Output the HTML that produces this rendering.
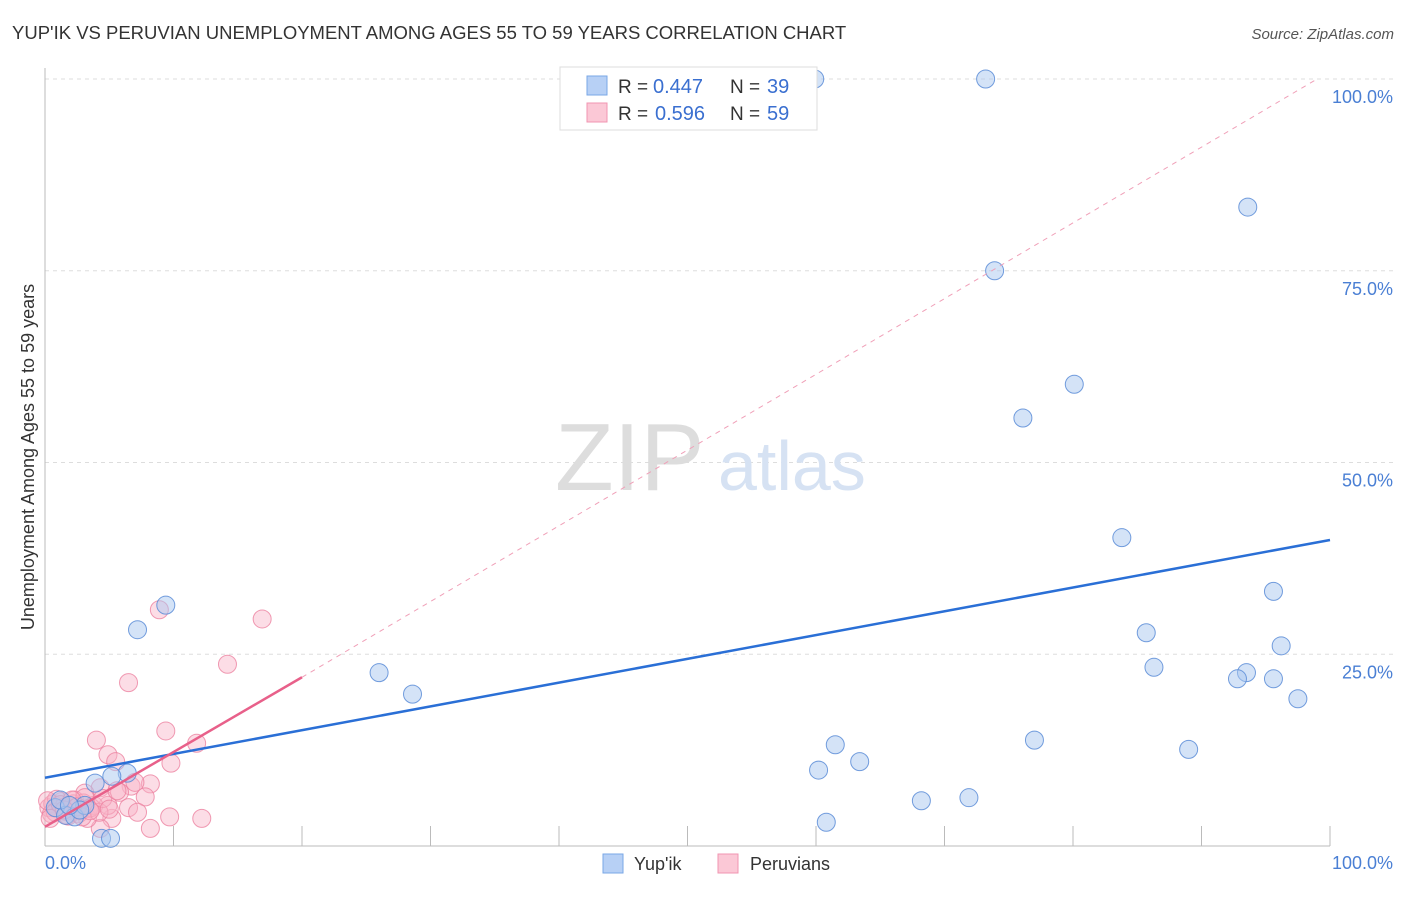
<!DOCTYPE html>
<html><head><meta charset="utf-8"><style>
body{margin:0;background:#fff;font-family:"Liberation Sans",sans-serif;}
svg text{font-family:"Liberation Sans",sans-serif;}
</style></head><body>
<svg id="chart" width="1406" height="892">
<text x="12" y="39" font-size="18.5" fill="#333">YUP'IK VS PERUVIAN UNEMPLOYMENT AMONG AGES 55 TO 59 YEARS CORRELATION CHART</text>
<text x="1394" y="39" font-size="15" fill="#555" font-style="italic" text-anchor="end">Source: ZipAtlas.com</text>
<g id="grid"></g>
<text x="555" y="490" font-size="96" fill="#ddd" font-family="Liberation Serif">ZIP</text>
<text x="718" y="490" font-size="70" fill="#d6e2f3">atlas</text>
<line x1="45" y1="68" x2="45" y2="846" stroke="#bbb"/>
<line x1="45" y1="846" x2="1330" y2="846" stroke="#bbb"/>
<g id="ticks"></g>
<g id="ylabels"></g>
<text x="45" y="869" font-size="18" fill="#4a7fd4">0.0%</text>
<text x="1393" y="869" font-size="18" fill="#4a7fd4" text-anchor="end">100.0%</text>
<text transform="translate(34,457) rotate(-90)" font-size="18" fill="#333" text-anchor="middle">Unemployment Among Ages 55 to 59 years</text>
<g id="pink"></g>
<g id="blue"></g>
<g id="lines"></g>
<g>
<rect x="560" y="67" width="257" height="63" fill="#fff" stroke="#ddd"/>
<rect x="587" y="76" width="20" height="19" fill="#b7d0f5" stroke="#7aa7e6"/>
<rect x="587" y="103" width="20" height="19" fill="#fbc8d6" stroke="#f095b1"/>
<text x="618" y="93" font-size="19" fill="#333">R =</text>
<text x="653" y="93" font-size="20" fill="#3a6fd0">0.447</text>
<text x="730" y="93" font-size="19" fill="#333">N =</text>
<text x="767" y="93" font-size="20" fill="#3a6fd0">39</text>
<text x="618" y="120" font-size="19" fill="#333">R =</text>
<text x="655" y="120" font-size="20" fill="#3a6fd0">0.596</text>
<text x="730" y="120" font-size="19" fill="#333">N =</text>
<text x="767" y="120" font-size="20" fill="#3a6fd0">59</text>
</g>
<g>
<rect x="603" y="854" width="20" height="19" fill="#b7d0f5" stroke="#7aa7e6"/>
<text x="634" y="870" font-size="18" fill="#333">Yup'ik</text>
<rect x="718" y="854" width="20" height="19" fill="#fbc8d6" stroke="#f095b1"/>
<text x="750" y="870" font-size="18" fill="#333">Peruvians</text>
</g>
</svg>
<script>
const yTicks=[25,50,75,100];
const yTickLabels=["25.0%","50.0%","75.0%","100.0%"];
const xTicks=[10,20,30,40,50,60,70,80,90,100];
const yupikX=[59.9,73.2,93.6,73.9,80.1,76.1,83.8,95.6,85.7,9.4,7.2,26.0,28.6,86.3,93.5,92.8,95.6,96.2,97.5,61.5,63.4,60.2,77.0,89.0,68.2,71.9,60.8,3.9,6.4,5.2,4.4,5.1,0.8,1.6,2.3,3.1,1.2,2.7,1.9];
const yupikY=[100,100,83.3,75,60.2,55.8,40.2,33.2,27.8,31.4,28.2,22.6,19.8,23.3,22.6,21.8,21.8,26.1,19.2,13.2,11.0,9.9,13.8,12.6,5.9,6.3,3.1,8.2,9.5,9.1,1.0,1.0,5.0,4.0,3.8,5.3,6.0,4.7,5.3];
const peruX=[8.9,16.9,14.2,6.5,9.4,4.0,11.8,4.9,5.5,9.8,6.7,8.2,7.0,5.8,7.8,4.3,3.1,9.7,12.2,8.2,5.2,4.3,6.5,7.2,4.9,3.3,0.3,0.6,1.0,1.3,1.6,2.0,2.3,2.6,3.0,3.4,3.8,0.5,0.9,1.4,1.8,2.2,2.7,3.1,3.6,4.2,0.2,0.8,1.2,1.7,2.1,2.5,2.9,3.5,4.5,5.0,5.6,0.4,1.5];
const peruY=[30.8,29.6,23.7,21.3,15.0,13.8,13.4,11.9,11.0,10.8,7.8,8.1,8.3,7.0,6.4,7.6,6.9,3.8,3.6,2.3,3.6,2.3,5.0,4.4,5.3,3.6,5.0,5.5,4.8,5.8,4.5,5.2,6.0,4.2,5.6,4.9,5.3,4.2,6.1,5.0,3.9,5.5,4.6,6.3,5.0,4.4,5.9,4.4,5.4,4.0,6.0,5.1,3.8,4.6,6.2,4.8,7.2,3.6,4.7];
const blueTrend=[[0,8.9],[100,39.9]];
const pinkTrend=[[0,2.5],[20,22]];
const diagTrend=[[20,22],[99,100]];
const X=v=>45+v*12.85, Y=v=>846-v*7.67;
const NS="http://www.w3.org/2000/svg";
function mk(t,a,p){const e=document.createElementNS(NS,t);for(const k in a)e.setAttribute(k,a[k]);p.appendChild(e);return e;}
const grid=document.getElementById('grid'),yl=document.getElementById('ylabels'),tk=document.getElementById('ticks');
yTicks.forEach((v,i)=>{
 const l=mk('line',{x1:45,x2:1395,y1:Y(v),y2:Y(v),stroke:'#ddd','stroke-dasharray':'4,4'},grid);
 
 
 const t=mk('text',{x:1393,y:Y(v)+24,'font-size':18,fill:'#4a7fd4','text-anchor':'end'},yl);
 t.textContent=yTickLabels[i];
 
 
});
xTicks.forEach(v=>{
 const l=mk('line',{x1:X(v),x2:X(v),y1:826,y2:846,stroke:'#bbb'},tk);
 
 
});
const pg=document.getElementById('pink');
peruX.forEach((v,i)=>{
 const c=mk('circle',{cx:X(v),cy:Y(peruY[i]),r:9,fill:'rgba(248,180,200,0.45)',stroke:'rgba(236,130,160,0.8)','stroke-width':1},pg);
 
 
});
const bg=document.getElementById('blue');
yupikX.forEach((v,i)=>{
 const c=mk('circle',{cx:X(v),cy:Y(yupikY[i]),r:9,fill:'rgba(170,200,240,0.5)',stroke:'rgba(90,140,215,0.85)','stroke-width':1},bg);
 
 
});
const lg=document.getElementById('lines');
const d=mk('line',{x1:X(diagTrend[0][0]),y1:Y(diagTrend[0][1]),x2:X(diagTrend[1][0]),y2:Y(diagTrend[1][1]),stroke:'#f0a0b8','stroke-dasharray':'5,5','stroke-width':1},lg);


const b=mk('line',{x1:X(blueTrend[0][0]),y1:Y(blueTrend[0][1]),x2:X(blueTrend[1][0]),y2:Y(blueTrend[1][1]),stroke:'#2a6fd6','stroke-width':2.5},lg);


const p=mk('line',{x1:X(pinkTrend[0][0]),y1:Y(pinkTrend[0][1]),x2:X(pinkTrend[1][0]),y2:Y(pinkTrend[1][1]),stroke:'#e8608a','stroke-width':2.5},lg);


</script>
</body></html>
